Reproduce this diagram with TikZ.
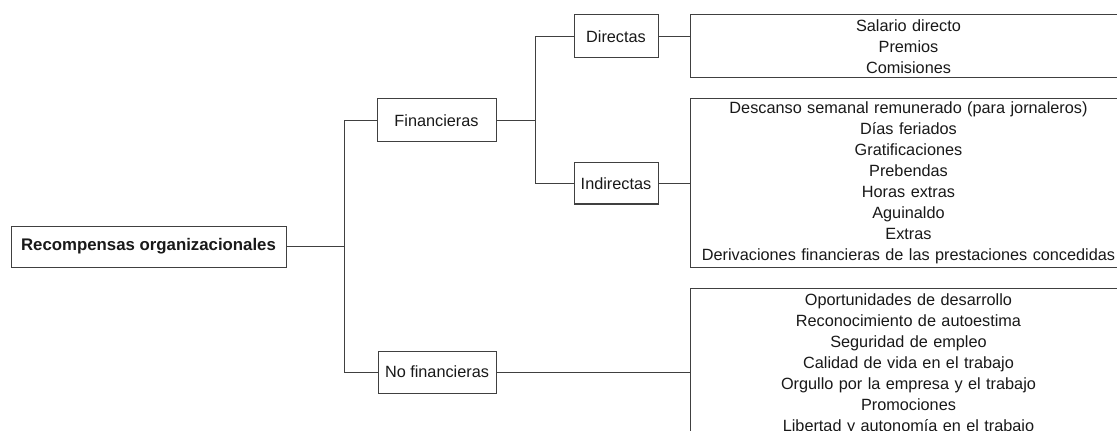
\documentclass[tikz,border=0pt]{standalone}
\usepackage{fontspec}
\setmainfont{Liberation Sans}
\begin{document}
\begin{tikzpicture}[x=0.75pt,y=-0.75pt,
  line/.style={draw=black!75, line width=0.75pt},
  box/.style={line, fill=white, inner sep=0pt, font=\fontsize{12.2}{15.75}\selectfont, text=black!90},
  listbox/.style={box, minimum width=327pt, text width=327pt, align=center, anchor=west},
]
\useasboundingbox (0,0) rectangle (1117,431);
\clip (0,0) rectangle (1117,431);

% hierarchy boxes
\node[box, minimum width=206.25pt, minimum height=30.75pt, font=\fontsize{12.6}{15.75}\selectfont\bfseries] (root) at (148.5,246.5) {Recompensas organizacionales};
\node[box, minimum width=89.25pt, minimum height=32.25pt] (fin) at (436.5,120.5) {Financieras};
\node[box, minimum width=88.5pt, minimum height=31.5pt] (nof) at (437,372) {No financieras};
\node[box, minimum width=63pt, minimum height=32.25pt] (dir) at (616,36.5) {Directas};
\node[box, minimum width=63pt, minimum height=30.75pt] (ind) at (616,183.5) {Indirectas};

% lists of rewards
\node[listbox, minimum height=47.25pt] (ldir) at (690,46.5) {Salario directo\\Premios\\Comisiones};
\node[listbox, minimum height=126pt] (lind) at (690,183) {Descanso semanal remunerado (para jornaleros)\\D\'ias feriados\\Gratificaciones\\Prebendas\\Horas extras\\Aguinaldo\\Extras\\Derivaciones financieras de las prestaciones concedidas};
\node[listbox, anchor=north west, inner ysep=4pt] (lnof) at (690,288) {Oportunidades de desarrollo\\Reconocimiento de autoestima\\Seguridad de empleo\\Calidad de vida en el trabajo\\Orgullo por la empresa y el trabajo\\Promociones\\Libertad y autonom\'ia en el trabajo\\};

% branching points
\coordinate (j1) at (344,246.5);
\coordinate (j2) at (535,120.5);

% connectors
\draw[line] (root.east) -- (j1);
\draw[line] (fin.west) -| (j1);
\draw[line] (nof.west) -| (j1);
\draw[line] (fin.east) -- (j2);
\draw[line] (dir.west) -| (j2);
\draw[line] (ind.west) -| (j2);
\draw[line] (dir.east) -- (dir.east -| ldir.west);
\draw[line] (ind.east) -- (ind.east -| lind.west);
\draw[line] (nof.east) -- (nof.east -| lnof.west);
\end{tikzpicture}
\end{document}
